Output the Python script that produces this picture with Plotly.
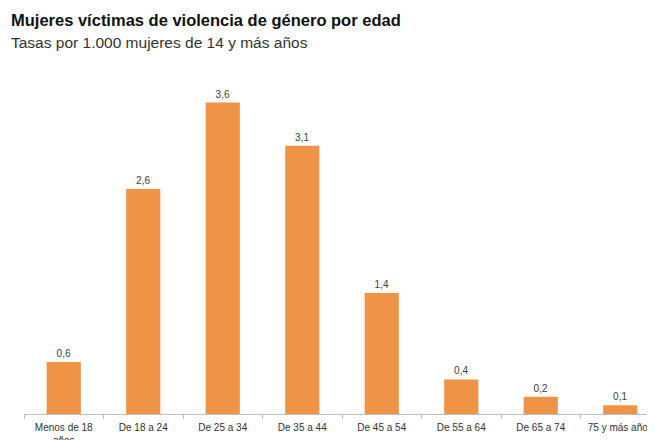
import plotly.graph_objects as go

categories = ["Menos de 18<br>años", "De 18 a 24", "De 25 a 34", "De 35 a 44",
              "De 45 a 54", "De 55 a 64", "De 65 a 74", "75 y más años"]
values = [0.6, 2.6, 3.6, 3.1, 1.4, 0.4, 0.2, 0.1]
value_labels = ["0,6", "2,6", "3,6", "3,1", "1,4", "0,4", "0,2", "0,1"]

W, H = 647, 432
L, R, T, B = 16, 0, 62, 26

fig = go.Figure(go.Bar(
    x=categories, y=values,
    marker=dict(color="#EF9446", line=dict(width=0)),
    text=value_labels, textposition="outside",
    textfont=dict(size=10, color="#404040", family="Liberation Sans, Arial"),
    cliponaxis=False,
    width=0.43,
))

pw = W - L - R
ph = H - T - B

def px2paper(px, py):
    return (px - L) / pw, (H - B - py) / ph

tx, ty = px2paper(1, 12)
sx, sy = px2paper(1, 34)

fig.update_layout(
    width=W, height=H,
    margin=dict(l=L, r=R, t=T, b=B, autoexpand=False),
    paper_bgcolor="white", plot_bgcolor="white",
    font=dict(family="Liberation Sans, Arial", color="#404040"),
    showlegend=False,
    annotations=[
        dict(text="<b>Mujeres víctimas de violencia de género por edad</b>",
             x=tx, y=ty, xref="paper", yref="paper", showarrow=False,
             xanchor="left", yanchor="middle",
             font=dict(size=16.5, color="#111111", family="Liberation Sans, Arial")),
        dict(text="Tasas por 1.000 mujeres de 14 y más años",
             x=sx, y=sy, xref="paper", yref="paper", showarrow=False,
             xanchor="left", yanchor="middle",
             font=dict(size=15.5, color="#333333", family="Liberation Sans, Arial")),
    ],
)

fig.update_xaxes(
    automargin=False,
    showline=True, linecolor="#BFBFBF", linewidth=1,
    ticks="outside", tickson="boundaries", ticklen=4, tickcolor="#BFBFBF",
    tickfont=dict(size=10, color="#333333"), ticklabelstandoff=4,
    range=[-0.5, -0.5 + pw / 79.5], showgrid=False,
)
fig.update_yaxes(automargin=False, visible=False, range=[0, ph / 86.5], showgrid=False)

fig.write_html("out.html")
